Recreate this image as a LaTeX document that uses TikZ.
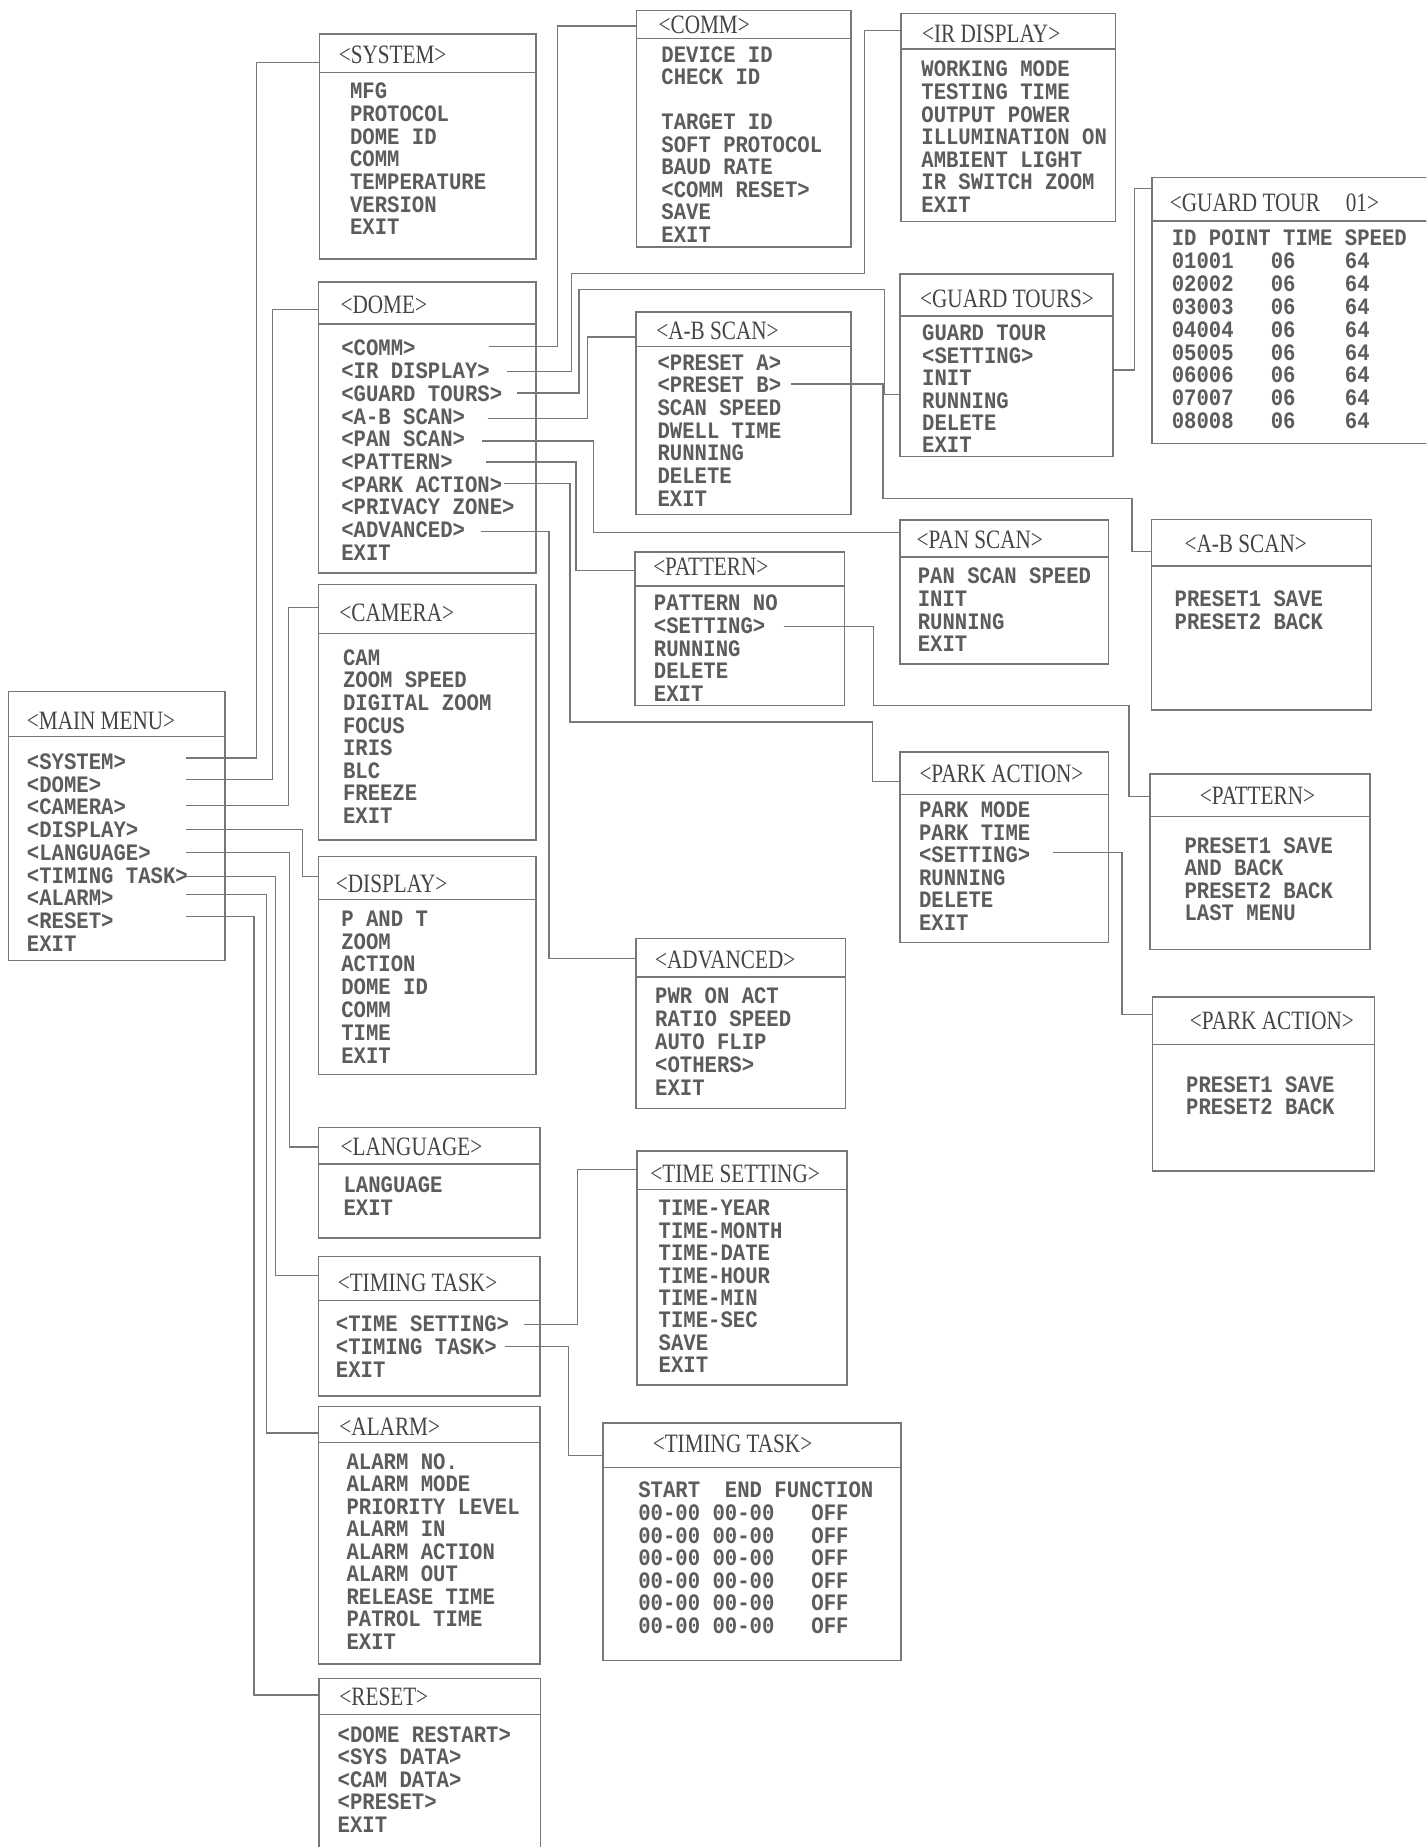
\documentclass[tikz,border=0pt]{standalone}
\usepackage{fontspec}
\usetikzlibrary{fit,calc}
\newfontfamily\itemfont[FakeStretch=0.875]{Liberation Mono}
\newfontfamily\titlefont[FakeStretch=0.8]{Liberation Serif}
\definecolor{lncol}{RGB}{120,120,120}
\definecolor{txcol}{RGB}{92,92,92}
\definecolor{ttcol}{RGB}{68,68,68}
\tikzset{
  frame/.style={draw=lncol, line width=1.2pt, inner sep=0pt, outer sep=0pt},
  sepline/.style={draw=lncol, line width=1.2pt},
  conn/.style={draw=lncol, line width=1.1pt},
  ttl/.style={text=ttcol, font=\titlefont\fontsize{22.5}{22.5}\selectfont, inner sep=0pt, anchor=base west},
  itm/.style={text=txcol, font=\itemfont\bfseries\fontsize{20}{20}\selectfont, inner sep=0pt, anchor=base west},
}
\newcommand{\menubox}[6]{%
  \node[frame, fit={(#2,#3) (#4,#5)}] (#1) {};
  \draw[sepline] (#2,#6) -- (#4,#6);
}
\newcommand{\menutitle}[4]{%
  \node[ttl] (#1-t) at (#2,{#3+7.3}) {#4};
}
\newcommand{\menuitems}[5]{%
  \foreach \txt [count=\i from 0] in {#5} {
    \node[itm] (#1-\i) at (#2,{#3+5.7+\i*#4}) {\txt};
  }
}
\begin{document}
\begin{tikzpicture}[x=1pt,y=-1pt]
\useasboundingbox (0,0) rectangle (1211,1568);
\clip (0,0) rectangle (1211,1568);
\fill[white] (0,0) rectangle (1211,1568);

% ---------- boxes ----------
\menubox{mm}{7}{587}{191}{815.5}{625}
\menutitle{mm}{22.7}{612}{<MAIN MENU>}
\menuitems{mm}{22.7}{647.5}{19.3}{<SYSTEM>,<DOME>,<CAMERA>,<DISPLAY>,<LANGUAGE>,<TIMING TASK>,<ALARM>,<RESET>,EXIT}

\menubox{sys}{271}{29}{455}{220}{61.5}
\menutitle{sys}{287.5}{47}{<SYSTEM>}
\menuitems{sys}{297}{78}{19.3}{MFG,PROTOCOL,DOME ID,COMM,TEMPERATURE,VERSION,EXIT}

\menubox{dome}{270.5}{239.5}{455}{486.5}{275}
\menutitle{dome}{289}{259}{<DOME>}
\menuitems{dome}{289.6}{296.4}{19.3}{<COMM>,<IR DISPLAY>,<GUARD TOURS>,<A-B SCAN>,<PAN SCAN>,<PATTERN>,<PARK ACTION>,<PRIVACY ZONE>,<ADVANCED>,EXIT}

\menubox{cam}{270.5}{496}{455}{713}{538}
\menutitle{cam}{288}{520.6}{<CAMERA>}
\menuitems{cam}{291}{559}{19.2}{CAM,ZOOM SPEED,DIGITAL ZOOM,FOCUS,IRIS,BLC,FREEZE,EXIT}

\menubox{disp}{270.5}{727}{455}{912}{763.5}
\menutitle{disp}{285}{750.4}{<DISPLAY>}
\menuitems{disp}{289.6}{780.7}{19.35}{P AND T,ZOOM,ACTION,DOME ID,COMM,TIME,EXIT}

\menubox{lang}{270.6}{957}{458.5}{1051}{988}
\menutitle{lang}{289}{973.8}{<LANGUAGE>}
\menuitems{lang}{291.5}{1007}{19.3}{LANGUAGE,EXIT}

\menubox{tt}{270.6}{1066.6}{458.5}{1185}{1104}
\menutitle{tt}{286.6}{1089}{<TIMING TASK>}
\menuitems{tt}{285}{1125}{19.3}{<TIME SETTING>,<TIMING TASK>,EXIT}

\menubox{alarm}{270.6}{1194}{458.5}{1412.7}{1224.6}
\menutitle{alarm}{288}{1211}{<ALARM>}
\menuitems{alarm}{294}{1241.5}{19.1}{ALARM NO.,ALARM MODE,PRIORITY LEVEL,ALARM IN,ALARM ACTION,ALARM OUT,RELEASE TIME,PATROL TIME,EXIT}

\menubox{reset}{270.8}{1425}{459}{1590}{1455.5}
\menutitle{reset}{288}{1440.6}{<RESET>}
\menuitems{reset}{286.5}{1473.5}{19.1}{<DOME RESTART>,<SYS DATA>,<CAM DATA>,<PRESET>,EXIT}

\menubox{comm}{540.3}{9}{722.5}{209.6}{32.5}
\menutitle{comm}{559}{21}{<COMM>}
\menuitems{comm}{561.3}{47}{19.1}{DEVICE ID,CHECK ID,{},TARGET ID,SOFT PROTOCOL,BAUD RATE,<COMM RESET>,SAVE,EXIT}

\menubox{abs}{540}{265}{722.6}{437}{294}
\menutitle{abs}{557}{281}{<A-B SCAN>}
\menuitems{abs}{558}{308.7}{19.2}{<PRESET A>,<PRESET B>,SCAN SPEED,DWELL TIME,RUNNING,DELETE,EXIT}

\menubox{pat}{539}{468.6}{717}{598.7}{497.4}
\menutitle{pat}{554.4}{481}{<PATTERN>}
\menuitems{pat}{555}{512.6}{19.35}{PATTERN NO,<SETTING>,RUNNING,DELETE,EXIT}

\menubox{adv}{540}{796.6}{718}{941}{829.5}
\menutitle{adv}{556}{815}{<ADVANCED>}
\menuitems{adv}{556}{846.4}{19.4}{PWR ON ACT,RATIO SPEED,AUTO FLIP,<OTHERS>,EXIT}

\menubox{ts}{540.7}{977}{719}{1175.6}{1010}
\menutitle{ts}{552}{996.8}{<TIME SETTING>}
\menuitems{ts}{559}{1026.3}{19.07}{TIME-YEAR,TIME-MONTH,TIME-DATE,TIME-HOUR,TIME-MIN,TIME-SEC,SAVE,EXIT}

\menubox{ttb}{511.8}{1208}{765}{1409.5}{1245.6}
\menutitle{ttb}{554}{1225.4}{<TIMING TASK>}
\menuitems{ttb}{541.7}{1265.9}{19.2}{START~~END~FUNCTION,00-00~00-00~~~OFF,00-00~00-00~~~OFF,00-00~00-00~~~OFF,00-00~00-00~~~OFF,00-00~00-00~~~OFF,00-00~00-00~~~OFF}

\menubox{ir}{765}{11.4}{947}{187.8}{41.6}
\menutitle{ir}{782.7}{29.2}{<IR DISPLAY>}
\menuitems{ir}{782}{59.5}{19.2}{WORKING MODE,TESTING TIME,OUTPUT POWER,ILLUMINATION ON,AMBIENT LIGHT,IR SWITCH ZOOM,EXIT}

\menubox{gts}{764}{232.7}{944.7}{387.7}{268.4}
\menutitle{gts}{781}{253.5}{<GUARD TOURS>}
\menuitems{gts}{782.7}{283.7}{19}{GUARD TOUR,<SETTING>,INIT,RUNNING,DELETE,EXIT}

\menubox{pan}{764}{441.5}{941}{563.7}{473}
\menutitle{pan}{778}{458.7}{<PAN SCAN>}
\menuitems{pan}{779}{489.7}{19.35}{PAN SCAN SPEED,INIT,RUNNING,EXIT}

\menubox{park}{764}{638.3}{941}{800.3}{674.6}
\menutitle{park}{780.4}{657}{<PARK ACTION>}
\menuitems{park}{780}{688.7}{19.1}{PARK MODE,PARK TIME,<SETTING>,RUNNING,DELETE,EXIT}

\menubox{gto}{978}{150.8}{1225}{376.6}{187.5}
\menutitle{gto}{993}{171.9}{<GUARD TOUR\hspace{22pt}01>}
\menuitems{gto}{994.6}{203}{19.4}{ID POINT TIME SPEED,01001~~~06~~~~64,02002~~~06~~~~64,03003~~~06~~~~64,04004~~~06~~~~64,05005~~~06~~~~64,06006~~~06~~~~64,07007~~~06~~~~64,08008~~~06~~~~64}

\menubox{absb}{977.5}{441}{1164.5}{602.8}{480.5}
\menutitle{absb}{1005.5}{461.8}{<A-B SCAN>}
\menuitems{absb}{997}{509.5}{19}{PRESET1 SAVE,PRESET2 BACK}

\menubox{patb}{976.3}{657}{1163}{806}{693}
\menutitle{patb}{1018.5}{675.3}{<PATTERN>}
\menuitems{patb}{1005.4}{718.6}{19.1}{PRESET1 SAVE,AND BACK,PRESET2 BACK,LAST MENU}

\menubox{parkb}{978.3}{846.4}{1167}{994}{886.6}
\menutitle{parkb}{1010}{866.4}{<PARK ACTION>}
\menuitems{parkb}{1006.8}{922}{18.4}{PRESET1 SAVE,PRESET2 BACK}

% ---------- connector ends on boxes ----------
\coordinate (sys-in)   at ($(sys.north west)+(0,24)$);
\coordinate (dome-in)  at ($(dome.north west)+(0,23)$);
\coordinate (cam-in)   at ($(cam.north west)+(0,20)$);
\coordinate (disp-in)  at ($(disp.north west)+(0,17)$);
\coordinate (lang-in)  at ($(lang.north west)+(0,16.8)$);
\coordinate (tt-in)    at ($(tt.north west)+(0,16.1)$);
\coordinate (alarm-in) at ($(alarm.north west)+(0,22.5)$);
\coordinate (reset-in) at ($(reset.north west)+(0,14)$);
\coordinate (comm-in)  at ($(comm.north west)+(0,13)$);
\coordinate (ir-in)    at ($(ir.north west)+(0,14.6)$);
\coordinate (gts-in)   at ($(gts.north west)+(0,102.3)$);
\coordinate (abs-in)   at ($(abs.north west)+(0,21)$);
\coordinate (pan-in)   at ($(pan.north west)+(0,10.5)$);
\coordinate (pat-in)   at ($(pat.north west)+(0,15.9)$);
\coordinate (park-in)  at ($(park.north west)+(0,24.9)$);
\coordinate (adv-in)   at ($(adv.north west)+(0,17)$);
\coordinate (absb-in)  at ($(absb.north west)+(0,27)$);
\coordinate (gto-in)   at ($(gto.north west)+(0,9.2)$);
\coordinate (patb-in)  at ($(patb.north west)+(0,19.3)$);
\coordinate (parkb-in) at ($(parkb.north west)+(0,14.6)$);
\coordinate (ts-in)    at ($(ts.north west)+(0,15.7)$);
\coordinate (ttb-in)   at ($(ttb.north west)+(0,27.6)$);
\coordinate (gts-out)  at ($(gts.north east)+(0,81.3)$);

% ---------- connector starts ----------
\coordinate (c-mm-sys)   at (158,643.5);
\coordinate (c-mm-dome)  at (158,662);
\coordinate (c-mm-cam)   at (158,683.6);
\coordinate (c-mm-disp)  at (158,704);
\coordinate (c-mm-lang)  at (158,723.6);
\coordinate (c-mm-tt)    at (158,744);
\coordinate (c-mm-alarm) at (158,759.5);
\coordinate (c-mm-reset) at (158,778);
\coordinate (c-comm) at (415.5,294);
\coordinate (c-ir)   at (430,315.2);
\coordinate (c-gts)  at (438.8,333.7);
\coordinate (c-abs)  at (414,355.2);
\coordinate (c-pan)  at (409.4,374.4);
\coordinate (c-pat)  at (413,392.3);
\coordinate (c-park) at (427.6,410.4);
\coordinate (c-adv)  at (408.5,451);
\coordinate (c-presetb) at (671.5,326);
\coordinate (c-patset)  at (665.4,532);
\coordinate (c-parkset) at (894.2,723.8);
\coordinate (c-tset)    at (445,1124.5);
\coordinate (c-ttask)   at (428.6,1143.3);

% ---------- connectors ----------
\draw[conn] (c-mm-sys)   -| ([xshift=-53pt]sys-in) -- (sys-in);
\draw[conn] (c-mm-dome)  -| ([xshift=-39.1pt]dome-in) -- (dome-in);
\draw[conn] (c-mm-cam)   -| ([xshift=-25.8pt]cam-in) -- (cam-in);
\draw[conn] (c-mm-disp)  -| ([xshift=-13.5pt]disp-in) -- (disp-in);
\draw[conn] (c-mm-lang)  -| ([xshift=-24.6pt]lang-in) -- (lang-in);
\draw[conn] (c-mm-tt)    -| ([xshift=-36.6pt]tt-in) -- (tt-in);
\draw[conn] (c-mm-alarm) -| ([xshift=-44.6pt]alarm-in) -- (alarm-in);
\draw[conn] (c-mm-reset) -| ([xshift=-55.1pt]reset-in) -- (reset-in);

\draw[conn] (c-comm) -| ([xshift=-67.3pt]comm-in) -- (comm-in);
\draw[conn] (c-ir) -| (485,232.4) -| ([xshift=-31pt]ir-in) -- (ir-in);
\draw[conn] (c-gts) -| (491.6,245.5) -| ([xshift=-13pt]gts-in) -- (gts-in);
\draw[conn] (c-abs) -| ([xshift=-41.3pt]abs-in) -- (abs-in);
\draw[conn] (c-pan) -| ([xshift=-260pt]pan-in) -- (pan-in);
\draw[conn] (c-pat) -| ([xshift=-50pt]pat-in) -- (pat-in);
\draw[conn] (c-park) -| (484,613) -| ([xshift=-23.5pt]park-in) -- (park-in);
\draw[conn] (c-adv) -| ([xshift=-74pt]adv-in) -- (adv-in);

\draw[conn] (c-presetb) -| (749.6,423) -| ([xshift=-16.5pt]absb-in) -- (absb-in);
\draw[conn] (gts-out) -| ([xshift=-15pt]gto-in) -- (gto-in);
\draw[conn] (c-patset) -| (741.4,598.8) -| ([xshift=-17.8pt]patb-in) -- (patb-in);
\draw[conn] (c-parkset) -| ([xshift=-25.9pt]parkb-in) -- (parkb-in);
\draw[conn] (c-tset) -| ([xshift=-50.7pt]ts-in) -- (ts-in);
\draw[conn] (c-ttask) -| ([xshift=-29.4pt]ttb-in) -- (ttb-in);
\end{tikzpicture}
\end{document}
